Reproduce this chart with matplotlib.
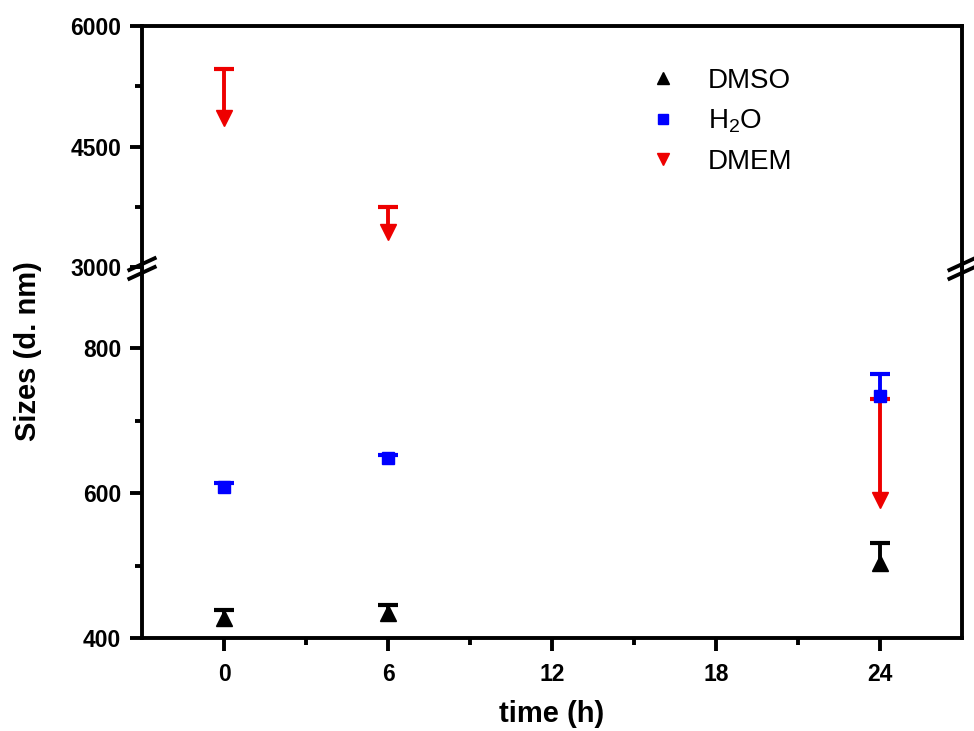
import numpy as np
import matplotlib
matplotlib.use('Agg')
import matplotlib.pyplot as plt
from matplotlib.lines import Line2D

plt.rcParams['font.family'] = ['Liberation Sans', 'DejaVu Sans']
plt.rcParams['mathtext.default'] = 'regular'

# data (one-sided error bars, plus direction)
times = [0, 6, 24]
dmso = [427, 435, 503]
dmso_err = [12, 10, 28]
h2o = [609, 648, 734]
h2o_err = [5, 5, 30]
dmem = [4850, 3430, 590]
dmem_err = [620, 320, 140]

series = [
    ('DMSO', dmso, dmso_err, 'black', '^', 11),
    ('H$_2$O', h2o, h2o_err, '#0000ff', 's', 8),
    ('DMEM', dmem, dmem_err, '#ee0000', 'v', 11),
]

fig = plt.figure(figsize=(9.74, 7.31), dpi=100)
left, width = 0.1458, 0.842
ax_bot = fig.add_axes([left, 0.1272, width, 0.5075])
ax_top = fig.add_axes([left, 0.6347, width, 0.3297])

for ax in (ax_bot, ax_top):
    for name, vals, err, col, mk, ms in series:
        vals = np.array(vals)
        err = np.array(err)
        ax.errorbar(times, vals, yerr=[np.zeros(len(err)), err], fmt=mk, color=col,
                    ms=ms, elinewidth=2.8, capsize=0, mec=col)
        # cap only on the plus side
        ax.plot(times, vals + err, ls='none', marker='_', ms=15, mew=3, color=col)
    ax.set_xlim(-3, 27)
    for s in ax.spines.values():
        s.set_linewidth(2.8)
    ax.tick_params(axis='both', which='major', direction='out', length=9, width=2.8,
                   labelsize=16.5, pad=6)
    ax.tick_params(axis='x', which='major', pad=9)
    ax.tick_params(axis='both', which='minor', direction='out', length=5, width=2.8)

ax_bot.set_ylim(400, 912)
ax_bot.set_yticks([400, 600, 800])
ax_bot.set_yticks([500, 700], minor=True)
ax_bot.set_xticks([0, 6, 12, 18, 24])
ax_bot.set_xticks([3, 9, 15, 21], minor=True)
ax_bot.spines['top'].set_visible(False)
ax_bot.set_xlabel('time (h)', fontsize=21, fontweight='bold', labelpad=10)
for lab in ax_bot.get_xticklabels() + ax_bot.get_yticklabels():
    lab.set_fontweight('bold')

ax_top.set_ylim(3000, 6000)
ax_top.set_yticks([3000, 4500, 6000])
ax_top.set_yticks([3750, 5250], minor=True)
ax_top.set_xticks([])
ax_top.set_xticks([], minor=True)
ax_top.spines['bottom'].set_visible(False)
for lab in ax_top.get_yticklabels():
    lab.set_fontweight('bold')

fig.text(28 / 974, 1 - 351 / 731, 'Sizes (d. nm)', rotation=90, ha='center', va='center',
         fontsize=21, fontweight='bold')

# break marks on both side spines
ybrk = 0.6347
for xs in (left, left + width):
    for dy in (0.004, -0.008):
        fig.add_artist(Line2D([xs - 0.013, xs + 0.013], [ybrk + dy - 0.008, ybrk + dy + 0.008],
                              color='black', lw=2.8, transform=fig.transFigure))

handles = [Line2D([], [], ls='none', marker=mk, color=col, ms=ms * 0.85)
           for name, vals, err, col, mk, ms in series]
labels = [s[0] for s in series]
ax_top.legend(handles, labels, loc='upper left', bbox_to_anchor=(0.588, 0.93), frameon=False,
              fontsize=20, handlelength=1.0, handletextpad=1.1, labelspacing=0.5)

fig.savefig('out.png', dpi=100)
